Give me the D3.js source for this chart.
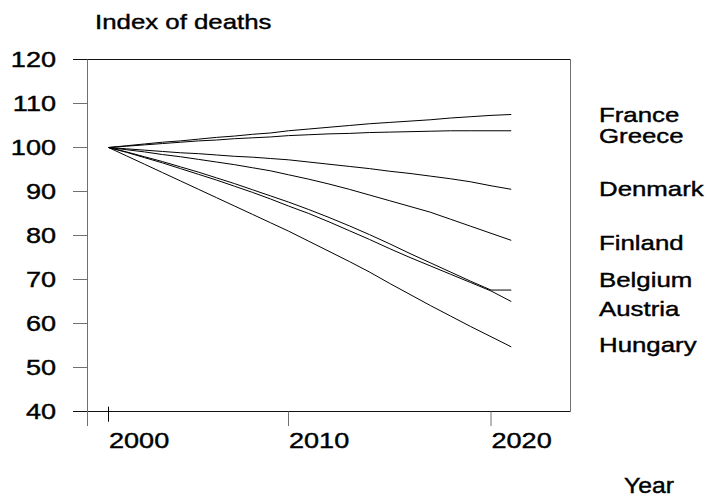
<!DOCTYPE html>
<html>
<head>
<meta charset="utf-8">
<script src="https://cdn.jsdelivr.net/npm/d3@7/dist/d3.min.js"></script>
<style>
  html, body { margin: 0; padding: 0; background: #fff; }
  svg { display: block; }
  text { font-family: "Liberation Sans", Arial, Helvetica, sans-serif; fill: #000; stroke: #000; stroke-width: 0.4px; }
</style>
</head>
<body>
<svg id="chart" width="711" height="499"></svg>
<script>
// Index of deaths (2000 = 100), yearly 2000-2021
const years = d3.range(2000, 2022);
const countries = ["France", "Greece", "Denmark", "Finland", "Belgium", "Austria", "Hungary"];
const france  = [100, 100.4, 100.8, 101.2, 101.5, 101.9, 102.3, 102.6, 103.0, 103.3, 103.8, 104.2, 104.6, 105.0, 105.4, 105.7, 106.0, 106.3, 106.7, 107.0, 107.3, 107.5];
const greece  = [100, 100.3, 100.6, 100.9, 101.2, 101.5, 101.7, 102.0, 102.2, 102.4, 102.7, 102.9, 103.1, 103.2, 103.4, 103.5, 103.6, 103.7, 103.8, 103.8, 103.8, 103.8];
const denmark = [100, 99.7, 99.4, 99.1, 98.8, 98.6, 98.3, 98.0, 97.8, 97.5, 97.2, 96.7, 96.2, 95.7, 95.2, 94.6, 94.1, 93.5, 92.9, 92.2, 91.3, 90.5];
const finland = [100, 99.5, 99.0, 98.4, 97.9, 97.3, 96.7, 96.1, 95.4, 94.7, 93.8, 92.8, 91.7, 90.5, 89.2, 87.9, 86.6, 85.3, 83.7, 82.1, 80.5, 78.9];
const belgium = [100, 99.0, 97.9, 96.8, 95.6, 94.4, 93.1, 91.8, 90.4, 89.0, 87.6, 85.9, 84.1, 82.2, 80.2, 78.1, 75.9, 73.8, 71.7, 69.6, 67.6, 67.6];
const austria = [100, 98.9, 97.7, 96.5, 95.2, 93.9, 92.6, 91.2, 89.8, 88.3, 86.7, 85.0, 83.1, 81.1, 79.1, 77.0, 75.0, 73.1, 71.2, 69.3, 67.4, 65.0];
const hungary = [100, 98.1, 96.2, 94.3, 92.4, 90.5, 88.6, 86.7, 84.8, 82.9, 81.0, 78.7, 76.4, 74.1, 71.7, 69.1, 66.6, 64.1, 61.7, 59.3, 57.0, 54.7];
const seriesValues = [france, greece, denmark, finland, belgium, austria, hungary];
const yTicks = [40, 50, 60, 70, 80, 90, 100, 110, 120];
const xTicks = [2000, 2010, 2020];
const title = "Index of deaths";
const xTitle = "Year";

const svg = d3.select("#chart");
const SX = 1.26; // horizontal stretch of the lettering

// x axis is piecewise: the first decade is drawn a little narrower
const x = d3.scaleLinear().domain([2000, 2010, 2020]).range([108.5, 288.5, 491]);
const y = d3.scaleLinear().domain([40, 120]).range([411.5, 59.5]);

const frameLeft = 73, frameRight = 570.5, axisX = 87.5, tickBottom = 426;

function label(sel, px, py, str, size, anchor, sx) {
  return sel.append("text")
    .attr("transform", `translate(${px},${py}) scale(${sx || SX},1)`)
    .attr("text-anchor", anchor || "start")
    .style("font-size", size + "px")
    .text(str);
}

// frame: top and bottom rules, left axis, right border
const frame = svg.append("g").attr("fill", "none");
frame.append("line").attr("x1", frameLeft).attr("x2", frameRight)
  .attr("y1", y(120)).attr("y2", y(120)).attr("stroke", "#111");
frame.append("line").attr("x1", frameLeft).attr("x2", frameRight)
  .attr("y1", y(40)).attr("y2", y(40)).attr("stroke", "#111");
frame.append("line").attr("x1", axisX).attr("x2", axisX)
  .attr("y1", y(120)).attr("y2", tickBottom).attr("stroke", "#707070");
frame.append("line").attr("x1", frameRight).attr("x2", frameRight)
  .attr("y1", y(120)).attr("y2", y(40)).attr("stroke", "#707070");

// y ticks and labels
frame.selectAll("line.ytick").data(yTicks.filter(v => v > 40 && v < 120)).join("line")
  .attr("class", "ytick")
  .attr("x1", frameLeft).attr("x2", axisX)
  .attr("y1", d => y(d)).attr("y2", d => y(d)).attr("stroke", "#707070");
const yLab = svg.append("g");
yTicks.forEach(v => label(yLab, 56, y(v) + 7.8, String(v), 21.5, "end"));

// x ticks and labels
xTicks.forEach((t, i) => {
  if (i === 0) {
    frame.append("line").attr("x1", x(t)).attr("x2", x(t))
      .attr("y1", 406.7).attr("y2", 421.7).attr("stroke", "#000");
  } else {
    frame.append("line").attr("x1", x(t)).attr("x2", x(t))
      .attr("y1", y(40)).attr("y2", tickBottom).attr("stroke", "#707070");
  }
  label(svg, x(t) + 0.5, 448, String(t), 21.5, "start");
});

// series lines
const line = d3.line().x((d, i) => x(years[i])).y(d => y(d));
svg.append("g").selectAll("path").data(seriesValues).join("path")
  .attr("d", line).attr("fill", "none").attr("stroke", "#000").attr("stroke-width", 1);

// end labels, nudged apart where lines finish close together
const labelNudge = { France: 0, Greece: 5.6, Denmark: 0, Finland: 2.7, Belgium: -9.7, Austria: 7, Hungary: -1.4 };
const endLab = svg.append("g");
countries.forEach((c, i) => {
  const v = seriesValues[i][seriesValues[i].length - 1];
  label(endLab, 599, y(v) + 7 + labelNudge[c], c, 20.5, "start");
});

// titles
label(svg, 95, 29.3, title, 20.5, "start");
label(svg, 624, 492.7, xTitle, 21.5, "start", 1.15);
</script>
</body>
</html>
